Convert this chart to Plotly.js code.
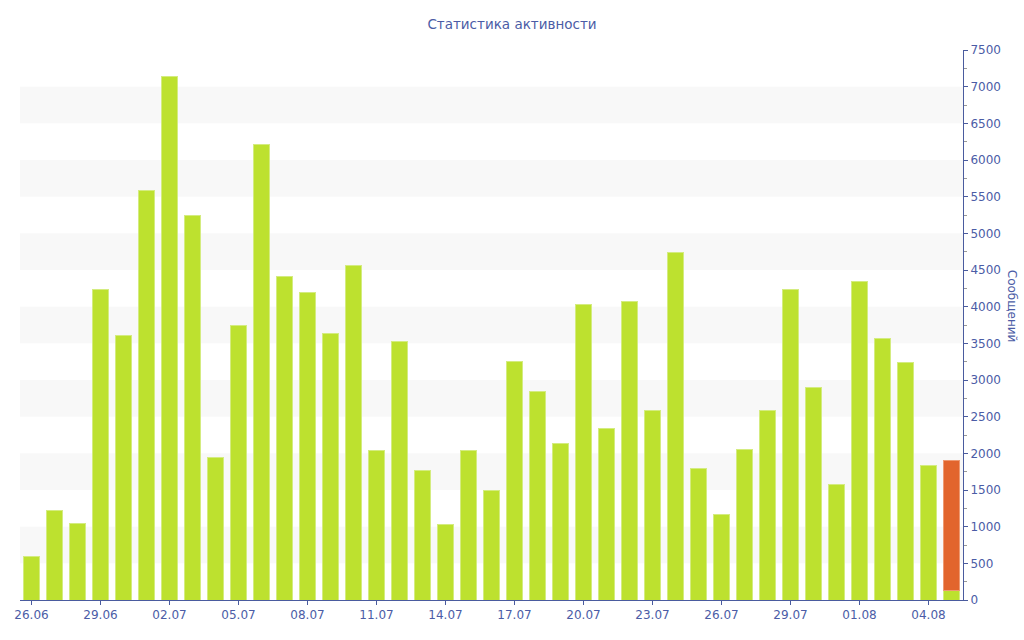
<!DOCTYPE html>
<html>
<head>
<meta charset="utf-8">
<script src="https://cdn.plot.ly/plotly-3.0.1.min.js"></script>
<style>
  html, body { margin: 0; padding: 0; background: #fff; }
  #chart { width: 1024px; height: 640px; }
</style>
</head>
<body>
<div id="chart"></div>
<script>
// days on the x axis
const days = [
    '26.06', '27.06', '28.06', '29.06', '30.06',
    '01.07', '02.07', '03.07', '04.07', '05.07', '06.07', '07.07', '08.07', '09.07', '10.07',
    '11.07', '12.07', '13.07', '14.07', '15.07', '16.07', '17.07', '18.07', '19.07', '20.07',
    '21.07', '22.07', '23.07', '24.07', '25.07', '26.07', '27.07', '28.07', '29.07', '30.07',
    '31.07', '01.08', '02.08', '03.08', '04.08', '05.08'
];

// messages per day (green) and the extra part of the last day (orange)
const messages = [
    600, 1220, 1040, 4240, 3610,
    5590, 7140, 5240, 1950, 3750, 6210, 4410, 4200, 3630, 4560,
    2040, 3520, 1760, 1030, 2040, 1500, 3250, 2850, 2140, 4030,
    2340, 4070, 2590, 4740, 1790, 1170, 2050, 2580, 4230, 2900,
    1580, 4340, 3570, 3240, 1830, 130
];
const extraDays = ['05.08'];
const extra = [1770];

// every third day gets a label
const tickDays = days.filter((_, i) => i % 3 === 0);

const axisColor = '#4a5b9e';
const textColor = '#4b5ca6';

// alternating light bands behind the bars
const bands = [];
for (let y = 500; y < 7500; y += 1000) {
    bands.push({
        type: 'rect', xref: 'paper', yref: 'y', layer: 'below',
        x0: 0, x1: 1, y0: y, y1: y + 500,
        fillcolor: '#f8f8f8', line: { width: 0 }
    });
}

const traces = [
    {
        x: days, y: messages, type: 'bar',
        marker: { color: '#bde12f', line: { color: '#d4ec80', width: 1 } },
        hoverinfo: 'x+y'
    },
    {
        x: extraDays, y: extra, type: 'bar',
        marker: { color: '#e2652d', line: { color: '#ee9a72', width: 1 } },
        hoverinfo: 'x+y'
    }
];

const layout = {
    width: 1024, height: 640,
    barmode: 'stack',
    bargap: 0.28,
    showlegend: false,
    paper_bgcolor: '#fff', plot_bgcolor: 'rgba(0,0,0,0)',
    font: { family: 'DejaVu Sans, Verdana, sans-serif', size: 12, color: textColor },
    title: {
        text: 'Статистика активности',
        font: { size: 13.5, color: textColor },
        x: 0.5, xanchor: 'center', y: 0.962, yanchor: 'middle'
    },
    margin: { l: 20, r: 61, t: 50, b: 40 },
    xaxis: {
        type: 'category',
        categoryorder: 'array', categoryarray: days,
        range: [-0.5, days.length - 0.5],
        tickvals: tickDays,
        ticktext: tickDays,
        tickangle: 0,
        showgrid: false,
        showline: true, linecolor: axisColor, linewidth: 1,
        ticks: 'outside', ticklen: 4, tickcolor: axisColor,
        tickfont: { size: 12, color: textColor },
        fixedrange: true
    },
    yaxis: {
        side: 'right',
        range: [0, 7500],
        dtick: 500,
        showgrid: false, zeroline: false,
        showline: true, linecolor: axisColor, linewidth: 1,
        ticks: 'outside', ticklen: 4, tickcolor: axisColor,
        minor: { dtick: 250, ticks: 'outside', ticklen: 3, tickcolor: '#999999', showgrid: false },
        tickfont: { size: 12, color: textColor },
        fixedrange: true
    },
    shapes: bands,
    annotations: [{
        text: 'Сообщений',
        xref: 'paper', yref: 'paper',
        x: 1, y: 0.535, xanchor: 'center', yanchor: 'middle',
        xshift: 49, textangle: 90, showarrow: false,
        font: { size: 12, color: textColor }
    }]
};

Plotly.newPlot('chart', traces, layout, { displayModeBar: false, staticPlot: true });
</script>
</body>
</html>
